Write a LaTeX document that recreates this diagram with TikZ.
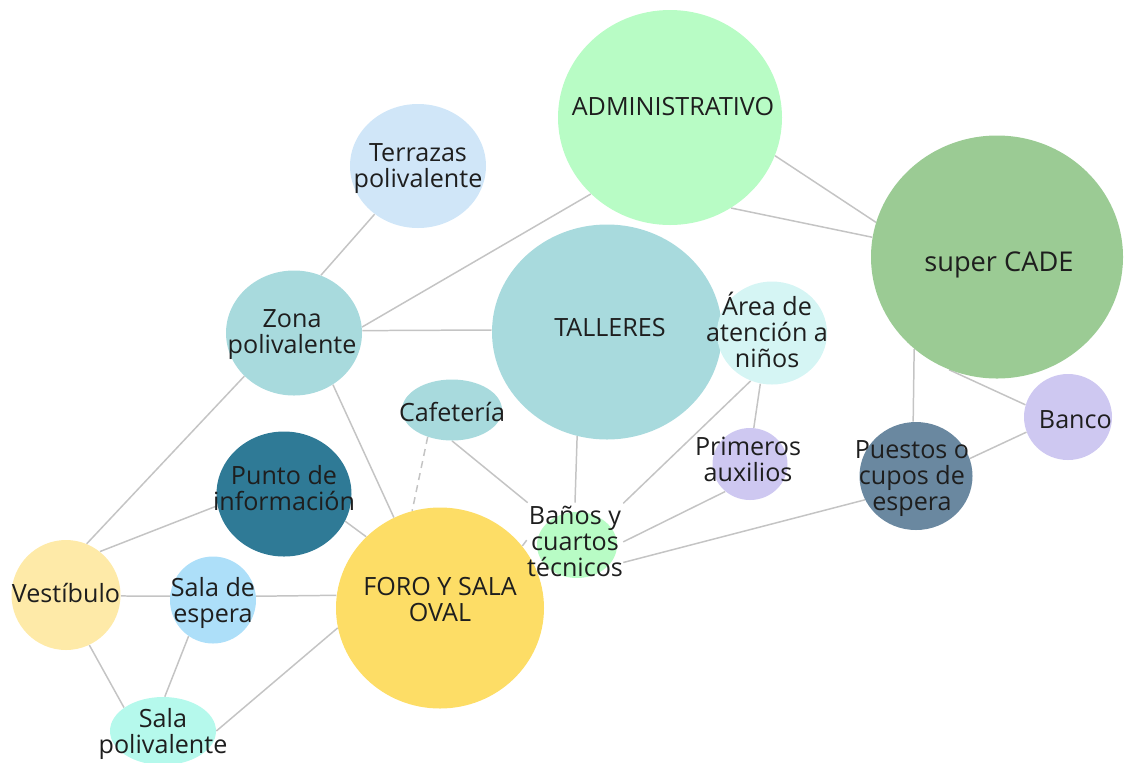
\documentclass[tikz,border=0pt]{standalone}
\usepackage{fontspec}
\setmainfont{Open Sans}
\usetikzlibrary{shapes.geometric,calc}
\pgfdeclarelayer{bg}
\pgfsetlayers{bg,main}
\definecolor{adminc}{HTML}{B8FCC5}
\definecolor{cadec}{HTML}{9BCB94}
\definecolor{terrc}{HTML}{D0E6F8}
\definecolor{zonac}{HTML}{A8DADD}
\definecolor{areac}{HTML}{D5F5F4}
\definecolor{puntoc}{HTML}{2F7A96}
\definecolor{primc}{HTML}{CEC8F1}
\definecolor{puesc}{HTML}{6A88A0}
\definecolor{foroc}{HTML}{FDDD66}
\definecolor{vestc}{HTML}{FEEAA8}
\definecolor{espc}{HTML}{ADDFF9}
\definecolor{salapc}{HTML}{B5F9EC}
\definecolor{edgec}{HTML}{C4C4C4}
\definecolor{txtc}{HTML}{1E1E1E}
\begin{document}
\begin{tikzpicture}[x=0.02cm,y=-0.02cm,
  bub/.style 2 args={ellipse, draw=none, inner sep=0pt, minimum width=#1*0.02cm, minimum height=#2*0.02cm},
  txt/.style={text=txtc, align=center, font=\fontsize{14.3}{14.8}\selectfont, inner sep=0pt},
  ed/.style={draw=edgec, line width=0.85pt}]
\useasboundingbox (0,0) rectangle (1132,762);
\node[bub={224}{215}, fill=adminc, label={[txt, xshift=1.7pt, yshift=6pt]center:ADMINISTRATIVO}] (admin) at (670,117.5) {};
\node[bub={252}{243}, fill=cadec, label={[txt, font=\fontsize{15.5}{16}\selectfont, xshift=1.1pt, yshift=-4.6pt]center:super CADE}] (cade) at (997,257) {};
\node[bub={136}{124}, fill=terrc, label={[txt, yshift=-1.4pt]center:Terrazas\\polivalente}] (terr) at (418,166) {};
\node[bub={136}{125}, fill=zonac, label={[txt, xshift=-1.1pt, yshift=-0.6pt]center:Zona\\polivalente}] (zona) at (294,333) {};
\node[bub={230}{215}, fill=zonac, label={[txt, xshift=1.7pt, yshift=2.3pt]center:TALLERES}] (tall) at (607,332) {};
\node[bub={110}{103}, fill=areac, label={[txt, xshift=-2.8pt, yshift=1.7pt]center:Área de\\atención a\\niños}] (area) at (772,333) {};
\node[bub={100}{61}, fill=zonac, label={[txt, yshift=-1.1pt]center:Cafetería}] (caf) at (452,410) {};
\node[bub={135}{125}, fill=puntoc, label={[txt, yshift=3.4pt]center:Punto de\\información}] (punto) at (284,494) {};
\node[bub={75}{72}, fill=primc, label={[txt, xshift=-1.1pt, yshift=2.8pt]center:Primeros\\auxilios}] (prim) at (750,464) {};
\node[bub={113}{108}, fill=puesc, label={[txt, xshift=-2.3pt, yshift=-1.7pt]center:Puestos o\\cupos de\\espera}] (pues) at (916,476) {};
\node[bub={88}{86}, fill=primc, label={[txt, xshift=4.2pt, yshift=-1.7pt]center:Banco}] (banco) at (1068,417) {};
\node[bub={208}{201}, fill=foroc, label={[txt, yshift=4.6pt]center:FORO Y SALA\\OVAL}] (foro) at (440,608) {};
\node[bub={109}{110}, fill=vestc, label={[txt, yshift=1.1pt]center:Vestíbulo}] (vest) at (66,595) {};
\node[bub={86}{87}, fill=espc, label={[txt, yshift=-1.7pt]center:Sala de\\espera}] (esp) at (213,600) {};
\node[bub={106}{68}, fill=salapc, label={[txt, yshift=-1.4pt]center:Sala\\polivalente}] (salap) at (163,731) {};
\node[txt, minimum width=1.8cm, minimum height=1.52cm] (banos) at (575,541) {Baños y\\cuartos\\técnicos};
\begin{pgfonlayer}{bg}
\fill[adminc] ($(banos.center)+(2,4)$) ellipse [x radius=0.8cm, y radius=0.66cm];
\draw[ed] (terr.228) -- (zona.65);
\draw[ed] (zona.5) -- (admin.224);
\draw[ed] (zona.2) -- (tall.179);
\draw[ed] (zona.-53) -- (foro.117);
\draw[ed] (zona.-139) -- (vest.68);
\draw[ed] (punto.190) -- (vest.52);
\draw[ed] (punto.-24) -- (foro.136);
\draw[ed, dash pattern=on 4pt off 3pt] (caf.228) -- (foro.106);
\draw[ed] (caf.-90) -- (banos.141);
\draw[ed] (tall.-106) -- (banos.90);
\draw[ed] (area.-114) -- (banos.38);
\draw[ed] (area.-103) -- (prim.84);
\draw[ed] (prim.228) -- (banos.-1);
\draw[ed] (pues.205) -- (banos.-24);
\draw[ed] (foro.37) -- (banos.179);
\draw[ed] (admin.-20) -- (cade.164);
\draw[ed] (admin.-56) -- (cade.171);
\draw[ed] (cade.-132) -- (pues.93);
\draw[ed] (cade.-113) -- (banco.164);
\draw[ed] (banco.200) -- (pues.18);
\draw[ed] (vest.-1) -- (esp.175);
\draw[ed] (esp.5) -- (foro.173);
\draw[ed] (vest.-65) -- (salap.149);
\draw[ed] (esp.-124) -- (salap.87);
\draw[ed] (salap.0) -- (foro.191);
\end{pgfonlayer}
\end{tikzpicture}
\end{document}
